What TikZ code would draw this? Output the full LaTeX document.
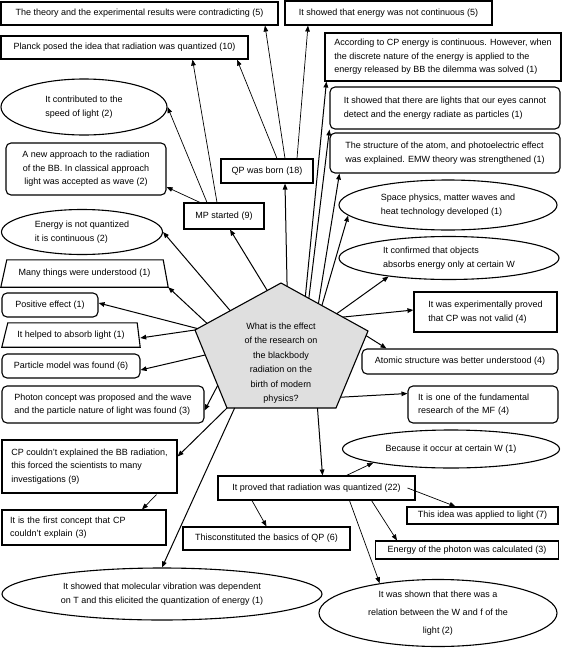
\documentclass[tikz,border=0pt]{standalone}
\usepackage{fontspec}
\setmainfont{Liberation Sans}
\usetikzlibrary{arrows.meta,calc,shapes.geometric}

\begin{document}
\begin{tikzpicture}[x=1pt, y=-1pt,
  every node/.style={font=\fontsize{9}{13.5}\selectfont},
  box/.style={draw, line width=1.1pt, inner sep=3pt},
  rbox/.style={box, rounded corners=5pt},
  oval/.style={draw, ellipse, line width=1.1pt, inner sep=0pt},
  arr/.style={-{Triangle[length=6pt,width=4.6pt]}, line width=1pt},
  larr/.style={arr, line width=0.7pt}]
  \useasboundingbox (0,0) rectangle (562,648);

  % the question in the middle
  \coordinate (pt)  at (281,283);
  \coordinate (pl)  at (195,330);
  \coordinate (pr)  at (368,331);
  \coordinate (pbl) at (227,408);
  \coordinate (pbr) at (336,408);
  \draw[fill=gray!25, line width=1.1pt] (pt) -- (pr) -- (pbr) -- (pbl) -- (pl) -- cycle;
  \node[align=center, font=\fontsize{9}{14.5}\selectfont] (quest) at (281,363)
    {What is the effect\\of the research on\\the blackbody\\radiation on the\\birth of modern\\physics?};

  % top
  \node[box, minimum width=277pt, minimum height=23pt] (theory) at (139.5,13.5) {The theory and the experimental results were contradicting (5)};
  \node[box, minimum width=247pt, minimum height=23pt] (planck) at (124.5,47.5) {Planck posed the idea that radiation was quantized (10)};
  \node[box, minimum width=207pt, minimum height=24pt] (notcont) at (388.5,13) {It showed that energy was not continuous (5)};
  \node[box, minimum width=236pt, minimum height=48pt, align=left] (cpsolved) at (443,57)
    {According to CP energy is continuous. However, when\\the discrete nature of the energy is applied to the\\energy released by BB the dilemma was solved (1)};

  % right column
  \node[rbox, minimum width=230pt, minimum height=42pt, align=left] (lights) at (445,108)
    {It showed that there are lights that our eyes cannot\\detect and the energy radiate as particles (1)};
  \node[rbox, minimum width=230pt, minimum height=40pt, align=left] (atom) at (445,153)
    {The structure of the atom, and photoelectric effect\\was explained. EMW theory was strengthened (1)};
  \node[oval, minimum width=218pt, minimum height=50pt, align=left] (space) at (448,205)
    {Space physics, matter waves and\\heat technology developed (1)};
  \node[oval, minimum width=220pt, minimum height=43pt, align=left] (confirm) at (449,258)
    {It confirmed that objects\\absorbs energy only at certain W};
  \node[box, minimum width=143pt, minimum height=40pt, align=left] (invalid) at (485.5,312)
    {It was experimentally proved\\that CP was not valid (4)};
  \node[rbox, minimum width=196pt, minimum height=25pt] (atomic) at (460,361.5) {Atomic structure was better understood (4)};
  \node[rbox, minimum height=37pt, align=left, text width=130pt, inner xsep=10pt] (mf) at (483,404.5)
    {It is one of the fundamental\\research of the MF (4)};

  % left column
  \node[oval, minimum width=166pt, minimum height=56pt, align=left] (speed) at (84,107)
    {It contributed to the\\speed of light (2)};
  \node[rbox, minimum width=160pt, minimum height=52pt, align=center] (newappr) at (86,169)
    {A new approach to the radiation\\of the BB. In classical approach\\light was accepted as wave (2)};
  \node[box, minimum width=80pt, minimum height=26pt] (mp) at (224,216) {MP started (9)};
  \node[box, minimum width=92pt, minimum height=24pt] (qp) at (267,171) {QP was born (18)};
  \node[oval, minimum width=161pt, minimum height=45pt, align=left] (notquant) at (82,232)
    {Energy is not quantized\\it is continuous (2)};
  \node[minimum width=167pt, minimum height=27pt] (many) at (84.5,273.5) {Many things were understood (1)};
  \draw[line width=1.1pt] ($(many.north west)+(6,0)$) -- ($(many.north east)+(-5,0)$)
    -- (many.south east) -- (many.south west) -- cycle;
  \node[rbox, minimum width=96pt, minimum height=24pt] (positive) at (50,305) {Positive effect (1)};
  \node[minimum width=138pt, minimum height=24pt] (absorb) at (71,335) {It helped to absorb light (1)};
  \draw[line width=1.1pt] ($(absorb.north west)+(6,0)$) -- ($(absorb.north east)+(-3,0)$)
    -- (absorb.south east) -- (absorb.south west) -- cycle;
  \node[rbox, minimum width=138pt, minimum height=24pt] (particle) at (71,366) {Particle model was found (6)};
  \node[rbox, minimum width=202pt, minimum height=37pt, align=left] (photon) at (103,404.5)
    {Photon concept was proposed and the wave\\and the particle nature of light was found (3)};
  \node[box, minimum width=175pt, minimum height=53pt, align=left] (cpfail) at (89.5,466.5)
    {CP couldn't explained the BB radiation,\\this forced the scientists to many\\investigations (9)};
  \node[box, minimum height=35pt, align=left, text width=148pt, inner xsep=8pt] (first) at (84,527.5)
    {It is the first concept that CP\\couldn't explain (3)};
  \node[oval, minimum width=320pt, minimum height=52pt, align=center] (molec) at (162,594)
    {It showed that molecular vibration was dependent\\on T and this elicited the quantization of energy (1)};

  % bottom
  \node[box, minimum width=197pt, minimum height=24pt] (proved) at (316.5,488) {It proved that radiation was quantized (22)};
  \node[box, minimum width=167pt, minimum height=23pt] (basics) at (266.5,538.5) {Thisconstituted the basics of QP (6)};
  \node[oval, minimum width=217pt, minimum height=38pt] (certain) at (451,449) {Because it occur at certain W (1)};
  \node[box, minimum width=151pt, minimum height=17pt, inner ysep=1pt] (light) at (482.5,515.5) {This idea was applied to light (7)};
  \node[box, minimum width=183pt, minimum height=18pt, inner ysep=1pt] (photonE) at (467,550) {Energy of the photon was calculated (3)};
  \node[oval, minimum width=238pt, minimum height=67pt, align=center, font=\fontsize{9}{18}\selectfont] (wf) at (438,613)
    {It was shown that there was a\\relation between the W and f of the\\light (2)};

  % arrows out of the question
  \draw[arr] ($(pl)!0.84!(pt)$) -- ($(mp.south)+(6,0)$);
  \draw[arr] ($(pt)!0.07!(pr)$) -- ($(qp.south)+(18,0)$);
  \draw[arr] ($(pt)!0.28!(pr)$) -- ($(cpsolved.south west)+(2,0)$);
  \draw[arr] ($(pt)!0.32!(pr)$) -- (lights.south west);
  \draw[arr] ($(pt)!0.43!(pr)$) -- ($(atom.south west)+(10,0)$);
  \draw[arr] ($(pt)!0.47!(pr)$) -- (space.186);
  \draw[arr] ($(pt)!0.64!(pr)$) -- (confirm.197);
  \draw[arr] ($(pt)!0.71!(pr)$) -- ($(invalid.west)+(0,-2)$);
  \draw[arr] ($(pr)!0.06!(pbr)$) -- ($(atomic.north west)+(25,0)$);
  \draw[arr] ($(pr)!0.86!(pbr)$) -- ($(mf.west)+(0,-11)$);
  \draw[arr] ($(pbl)!0.83!(pbr)$) -- ($(proved.north)+(6,0)$);
  \draw[arr] ($(pbl)!0.07!(pbr)$) -- (molec.north);
  \draw[arr] (pbl) -- ($(cpfail.east)+(0,-10)$);
  \draw[arr] ($(pl)!0.71!(pbl)$) -- ($(photon.east)+(0,6)$);
  \draw[arr] ($(pl)!0.32!(pbl)$) -- ($(particle.east)+(0,4)$);
  \draw[arr] (pl) -- ($(absorb.east)+(0,3)$);
  \draw[arr] ($(pl)!0.03!(pt)$) -- ($(positive.east)+(0,-2)$);
  \draw[arr] ($(pl)!0.14!(pt)$) -- (many.south east);
  \draw[arr] ($(pl)!0.41!(pt)$) -- (notquant.east);

  % MP and QP
  \draw[larr] ($(mp.north)+(-24,0)$) -- ($(newappr.east)+(0,18)$);
  \draw[larr] ($(mp.north)+(-17,0)$) -- (speed.east);
  \draw[larr] ($(mp.north)+(-7,0)$) -- ($(planck.south)+(68,0)$);
  \draw[larr] ($(qp.north)+(10,0)$) -- ($(planck.south)+(112.5,0)$);
  \draw[larr] ($(qp.north)+(18,0)$) -- ($(theory.south)+(125.5,0)$);
  \draw[larr] ($(qp.north)+(30,0)$) -- ($(notcont.south)+(-80.5,0)$);

  % lower boxes
  \draw[larr] ($(cpfail.south)+(67,1)$) -- ($(first.north)+(58,0)$);
  \draw[larr] ($(proved.north)+(30,0)$) -- (certain.190);
  \draw[larr] ($(proved.east)+(-8,0)$) -- ($(light.north)+(-27,0)$);
  \draw[larr] ($(proved.south)+(55,0)$) -- ($(photonE.north)+(-70,0)$);
  \draw[larr] ($(proved.south)+(33,0)$) -- (wf.153);
  \draw[larr] ($(proved.south)+(-64.5,0)$) -- (basics.north);
\end{tikzpicture}
\end{document}
